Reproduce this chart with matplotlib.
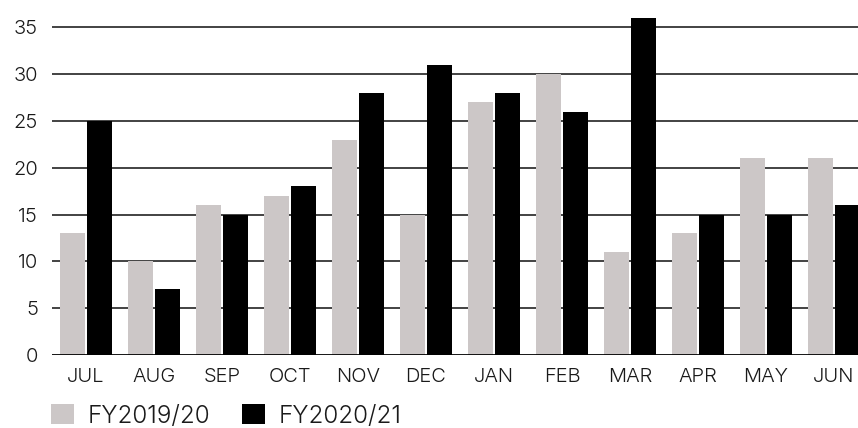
import matplotlib
matplotlib.use("Agg")
import matplotlib.pyplot as plt
import numpy as np

months = ["JUL", "AUG", "SEP", "OCT", "NOV", "DEC", "JAN", "FEB", "MAR", "APR", "MAY", "JUN"]
fy2019_20 = [13, 10, 16, 17, 23, 15, 27, 30, 11, 13, 21, 21]
fy2020_21 = [25, 7, 15, 18, 28, 31, 28, 26, 36, 15, 15, 16]
series_labels = ["FY2019/20", "FY2020/21"]
y_ticks = [0, 5, 10, 15, 20, 25, 30, 35]

plt.rcParams["font.family"] = ["Inter", "DejaVu Sans"]
plt.rcParams["font.weight"] = 300

W, H = 858, 428
fig = plt.figure(figsize=(W / 100, H / 100), dpi=100)
left_px, base_px = 52, 355
ax = fig.add_axes([left_px / W, (H - base_px) / H, 1 - left_px / W, base_px / H])

slot_px = 68
x = np.arange(len(months))
bw = 25 / slot_px
off = 13.5 / slot_px
ax.bar(x - off, fy2019_20, width=bw, color="#ccc7c7", label=series_labels[0], zorder=3)
ax.bar(x + off, fy2020_21, width=bw, color="#000000", label=series_labels[1], zorder=3)

ax.set_xlim(-0.5, -0.5 + (W - left_px) / slot_px)
px_per_unit = (base_px - 27.3) / 35
ax.set_ylim(0, base_px / px_per_unit)

fs = 14.5
ax.set_yticks(y_ticks)
ax.set_yticklabels([str(v) for v in y_ticks])
ax.set_xticks(x)
ax.set_xticklabels(months)
ax.tick_params(axis="both", length=0, labelsize=fs, colors="#1a1a1a")
ax.tick_params(axis="y", pad=10)
ax.tick_params(axis="x", pad=9)

for v in y_ticks[1:]:
    ax.axhline(v, color="#222222", lw=1.2, zorder=1)
ax.axhline(0, color="#000000", lw=2, zorder=4)

for s in ax.spines.values():
    s.set_visible(False)

leg_fs = 17.5
leg = fig.legend(loc="lower left", bbox_to_anchor=(51 / W, 0.5 / H), ncol=2, frameon=False,
                 fontsize=leg_fs, handlelength=0.95, handleheight=0.86, handletextpad=0.55,
                 columnspacing=1.3, borderaxespad=0, borderpad=0)
for t in leg.get_texts():
    t.set_color("#1a1a1a")

fig.savefig("out.png", dpi=100)
